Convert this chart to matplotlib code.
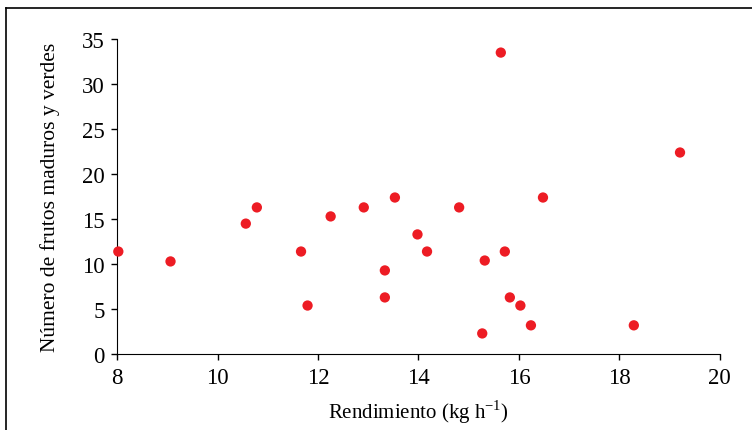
import matplotlib
matplotlib.use('Agg')
import matplotlib.pyplot as plt
from matplotlib.lines import Line2D

plt.rcParams['font.family'] = ['Liberation Serif', 'DejaVu Serif']

# Rendimiento (kg h-1) vs numero de frutos
rendimiento = [8.02, 9.06, 10.56, 10.78, 11.66, 11.79, 12.25, 12.91, 13.33, 13.33,
               13.53, 13.98, 14.17, 14.81, 15.27, 15.32, 15.64, 15.72, 15.82, 16.03,
               16.24, 16.48, 18.29, 19.21]
frutos = [11.4, 10.3, 14.5, 16.3, 11.4, 5.4, 15.3, 16.3, 9.3, 6.3,
          17.4, 13.3, 11.4, 16.3, 2.3, 10.4, 33.5, 11.4, 6.3, 5.4,
          3.2, 17.4, 3.2, 22.4]

fig = plt.figure(figsize=(7.52, 4.31), dpi=100)
ax = fig.add_axes([0.156, 0.176, 0.801, 0.731])

ax.scatter(rendimiento, frutos, s=55, color='#ED1C24', edgecolors='none', zorder=3,
           clip_on=False)

ax.set_xlim(8, 20)
ax.set_ylim(0, 35)
ax.set_xticks(range(8, 21, 2))
ax.set_yticks(range(0, 36, 5))
ax.spines['top'].set_visible(False)
ax.spines['right'].set_visible(False)
ax.tick_params(direction='out', length=4, width=1, labelsize=16.5, colors='black', pad=5)
ax.set_xlabel('Rendimiento (kg h$^{\\mathregular{-1}}$)', fontsize=15, labelpad=7)
ax.set_ylabel('Número de frutos maduros y verdes', fontsize=15.5, labelpad=16)

# frame around the figure (top and left edges)
fig.add_artist(Line2D([6/752, 6/752], [0, 1 - 9/431], transform=fig.transFigure,
                      color='black', lw=1.2))
fig.add_artist(Line2D([6/752, 1], [1 - 9/431, 1 - 9/431], transform=fig.transFigure,
                      color='black', lw=1.2))

fig.savefig('out.png', dpi=100)
